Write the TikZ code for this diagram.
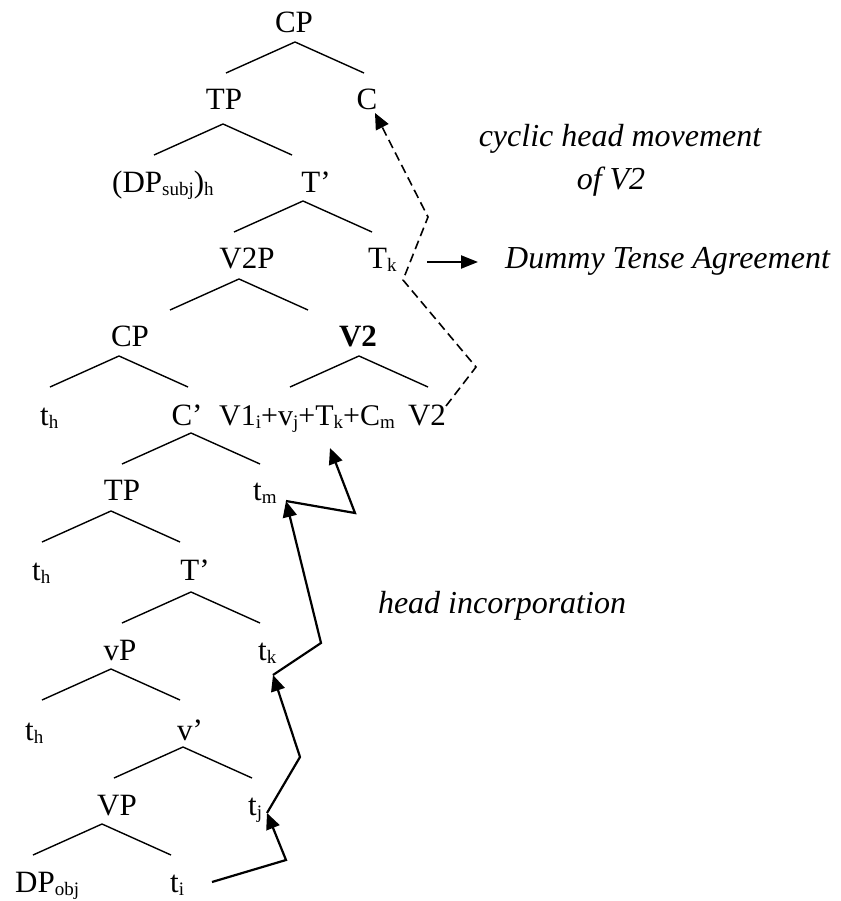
\documentclass[tikz,border=0pt]{standalone}
\usepackage{fontspec}
\setmainfont{Liberation Serif}
\usetikzlibrary{arrows.meta}

\newcommand\lo[1]{\raisebox{-3pt}{\fontsize{19}{19}\selectfont #1}}

\begin{document}
\begin{tikzpicture}[x=1pt,y=-1pt,>={Triangle[length=16pt,width=14pt]},
	treenode/.style={font=\fontsize{31}{36}\selectfont,inner sep=0pt,anchor=base},
	comment/.style={font=\fontsize{32}{38}\selectfont\itshape,inner sep=0pt,anchor=base},
	branch/.style={line width=1.4pt},
	move/.style={->,line width=2.2pt},
	cyclic/.style={->,line width=1.6pt,dash pattern=on 9pt off 5pt}]
	\useasboundingbox (0,0) rectangle (840,901);
	
	% tree labels
	\node[treenode] (cp) at (294,33) {CP};
	\node[treenode] (tp) at (224,110) {TP};
	\node[treenode] (c) at (367,110) {C};
	\node[treenode,anchor=base west] (dpsubj) at (112,193) {(DP\lo{subj})\lo{h}};
	\node[treenode] (tbar) at (316,193) {T’};
	\node[treenode] (vtwop) at (247,268) {V2P};
	\node[treenode,anchor=base west] (tk) at (368,268) {T\lo{k}};
	\node[treenode] (cpb) at (130,346) {CP};
	\node[treenode] (vtwo) at (358,346) {\textbf{V2}};
	\node[treenode,anchor=base west] (th) at (40,425) {t\lo{h}};
	\node[treenode] (cbar) at (187,425) {C’};
	\node[treenode,anchor=base west,font=\fontsize{30}{36}\selectfont] (vone) at (219,425) {V1\lo{i}+v\lo{j}+T\lo{k}+C\lo{m}};
	\node[treenode] (vtwob) at (427,425) {V2};
	\node[treenode] (tpb) at (122,500) {TP};
	\node[treenode,anchor=base west] (tm) at (253,500) {t\lo{m}};
	\node[treenode,anchor=base west] (thb) at (32,580) {t\lo{h}};
	\node[treenode] (tbarb) at (195,580) {T’};
	\node[treenode] (vp) at (120,660) {vP};
	\node[treenode,anchor=base west] (tkb) at (258,660) {t\lo{k}};
	\node[treenode,anchor=base west] (thc) at (25,740) {t\lo{h}};
	\node[treenode] (vbar) at (190,740) {v’};
	\node[treenode] (vpb) at (117,815) {VP};
	\node[treenode,anchor=base west] (tj) at (248,815) {t\lo{j}};
	\node[treenode,anchor=base west] (dpobj) at (15,892) {DP\lo{obj}};
	\node[treenode,anchor=base west] (ti) at (170,892) {t\lo{i}};
	
	% branches
	\foreach \x/\y in {295/42,223/124,303/201,239/279,119/356,359/356,
		191/433,111/511,191/592,111/669,183/747,102/824}
		\draw[branch] (\x,\y) -- ++(-69,31) (\x,\y) -- ++(69,31);
	
	% comments
	\node[comment] (cyc) at (620,147) {cyclic head movement};
	\node[comment] (ofv) at (611,190) {of V2};
	\node[comment,anchor=base west] (dta) at (505,268) {Dummy Tense Agreement};
	\node[comment] (hinc) at (502,613) {head incorporation};
	
	% head incorporation
	\coordinate (p0) at (212,882);
	\coordinate (p1) at (286,860);
	\coordinate (p2) at (267,813);
	\coordinate (p3) at (300,757);
	\coordinate (p4) at (273,675);
	\coordinate (p5) at (321,643);
	\coordinate (p6) at (286,501);
	\coordinate (p7) at (355,513);
	\coordinate (p8) at (330,448);
	\draw[move] (p0) -- (p1) -- (p2);
	\draw[move] (p2) -- (p3) -- (p4);
	\draw[move] (p4) -- (p5) -- (p6);
	\draw[move] (p6) -- (p7) -- (p8);
	
	% cyclic movement
	\coordinate (q0) at (446,406);
	\coordinate (q1) at (476,367);
	\coordinate (q2) at (403,280);
	\coordinate (q3) at (428,217);
	\coordinate (q4) at (375,113);
	\draw[cyclic] (q0) -- (q1) -- (q2) -- (q3) -- (q4);
	
	\coordinate (d0) at (427,262);
	\coordinate (d1) at (478,262);
	\draw[move,-{Triangle[length=17pt,width=13pt]}] (d0) -- (d1);
\end{tikzpicture}
\end{document}
